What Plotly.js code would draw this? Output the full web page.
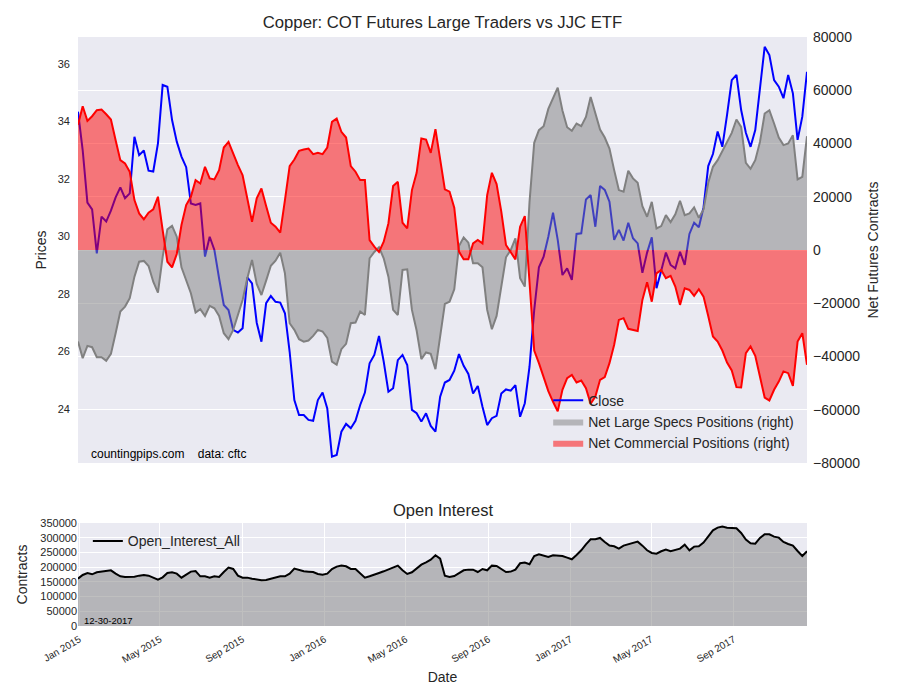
<!DOCTYPE html>
<html><head><meta charset="utf-8">
<script src="https://cdn.plot.ly/plotly-3.0.1.min.js"></script>
<style>html,body{margin:0;padding:0;background:#fff}#chart{width:900px;height:700px}</style>
</head><body><div id="chart"></div>
<script>
// Weekly COT report dates start (Tuesdays)
const startDate = '2014-12-30';

// JJC ETF close price (left axis)
const close = [
34.34, 33.0, 31.18, 30.94, 29.41, 30.69, 30.52, 30.90, 31.36, 31.71,
31.33, 31.50, 33.47, 32.83, 32.99, 32.29, 32.26, 33.24, 35.27, 35.21,
34.05, 33.30, 32.78, 32.41, 31.15, 31.10, 31.15, 29.30, 29.99, 29.53,
28.54, 27.62, 27.44, 26.75, 26.66, 26.81, 28.58, 28.37, 27.00, 26.34,
27.68, 27.93, 27.73, 27.70, 27.33, 25.99, 24.31, 23.79, 23.79, 23.62,
23.59, 24.31, 24.57, 24.02, 22.34, 22.40, 23.21, 23.48, 23.33, 23.59,
24.14, 24.57, 25.59, 25.88, 26.54, 25.65, 24.60, 24.72, 25.70, 25.88,
25.53, 23.97, 23.85, 23.56, 23.85, 23.41, 23.21, 24.43, 24.92, 25.01,
25.33, 25.91, 25.50, 25.22, 24.54, 24.80, 24.08, 23.44, 23.68, 23.76,
24.54, 24.68, 24.64, 24.83, 23.73, 24.20, 25.47, 27.44, 28.93, 29.30,
29.99, 30.83, 29.88, 28.66, 28.89, 28.49, 30.09, 30.11, 31.29, 31.44,
30.34, 31.76, 31.62, 31.21, 29.88, 30.23, 29.86, 30.48, 29.94, 29.76,
28.74, 29.44, 29.97, 28.20, 28.81, 29.44, 29.01, 28.89, 29.47, 29.01,
30.09, 30.48, 30.32, 31.01, 32.45, 32.87, 33.65, 33.12, 34.23, 35.44,
35.62, 34.40, 33.61, 33.12, 33.70, 35.10, 36.60, 36.31, 35.44, 35.21,
34.81, 35.62, 34.98, 33.36, 34.17, 35.73
];

// Net Large Speculator positions (right axis)
const largeSpecs = [
-34400, -40600, -36000, -36500, -40250, -40250, -41600, -39000, -31250, -23100,
-21250, -18100, -10000, -4400, -4100, -6000, -11900, -16000, -2600, 7750,
9100, 5000, -6500, -11500, -16250, -23500, -22250, -24750, -21000, -21900,
-24750, -31250, -33500, -30000, -24750, -18750, -10600, -3750, -12750, -16900,
-11500, -5900, -4000, -1000, -8750, -27500, -30000, -33500, -34400, -34000,
-32250, -30000, -30600, -33000, -41900, -43100, -37250, -35250, -27500, -27250,
-23100, -24400, -3100, -750, 1000, -3100, -10000, -22500, -24400, -7500,
-7250, -22500, -30250, -41000, -38500, -39000, -44750, -32500, -20250, -19400,
-14750, 1500, 4750, 2750, -5000, -5000, -6500, -22500, -29750, -24750,
-13750, -2750, 0, 4400, -10600, -13750, 18000, 40250, 45000, 46500,
53000, 56700, 61000, 52400, 46100, 44750, 47500, 46500, 50000, 57500,
51250, 45250, 42250, 38100, 30000, 22500, 21900, 29750, 26900, 25250,
16500, 12500, 18100, 8100, 9000, 13100, 10500, 13400, 18500, 13100,
13750, 16000, 12100, 15250, 25250, 31250, 33750, 37100, 40400, 44000,
49000, 46250, 32750, 30500, 33750, 40600, 51250, 52500, 47500, 42250,
39400, 40000, 43100, 26500, 27500, 42750
];

// Net Commercial positions (right axis)
const commercial = [
47000, 54000, 48500, 50250, 52500, 52750, 51000, 49000, 41250, 33750,
32500, 29400, 18750, 13750, 11500, 14000, 15250, 20000, 7500, -4400,
-6500, -1500, 9400, 16900, 20000, 26250, 25000, 31250, 26900, 26500,
30000, 38500, 40600, 36000, 31900, 28100, 20000, 10600, 19400, 23100,
16500, 10250, 8750, 6500, 18750, 31500, 34000, 37250, 37750, 38100,
36000, 36500, 36000, 38500, 48100, 49400, 44400, 42250, 31500, 29400,
26250, 26250, 3750, 1250, -750, 3100, 10000, 24000, 25600, 10250,
8100, 22500, 29000, 41900, 41500, 36500, 45400, 33750, 22750, 21900,
15900, -600, -3500, -3500, 2500, 3750, 2500, 20600, 29000, 24750,
14400, 1900, -1000, -3500, 8750, 12750, -12000, -37750, -42500, -48100,
-53000, -57000, -60600, -52500, -48100, -46900, -49750, -49000, -51900, -57750,
-55000, -48750, -47750, -42500, -35600, -26250, -25600, -29600, -30000, -30400,
-18750, -12100, -19400, -8750, -7500, -10600, -9750, -13750, -20600, -14400,
-15000, -17250, -14750, -17500, -24750, -32500, -34400, -37750, -42250, -45250,
-51500, -51600, -38750, -36250, -39750, -47500, -55400, -56500, -52500, -49400,
-45600, -46250, -51000, -34400, -31250, -43100
];

// Open interest (all)
const openInterest = [
160900, 173400, 180100, 175600, 182400, 184700, 189200, 189200, 177900, 168800,
166600, 166600, 167700, 171100, 173400, 171100, 164300, 157500, 165400, 180100,
182400, 177900, 164300, 175600, 184700, 186900, 168800, 168800, 164300, 168800,
166600, 183500, 198300, 193700, 171100, 164300, 164300, 160900, 157500, 155200,
156400, 159800, 164300, 168800, 168800, 177900, 194900, 190300, 185800, 184700,
183500, 176700, 174500, 177900, 193700, 201700, 205100, 202800, 193700, 193700,
180100, 164300, 168800, 175600, 180100, 185800, 191500, 199400, 205100, 189200,
176700, 182400, 196000, 208500, 216400, 225500, 240200, 228900, 171100, 166600,
169900, 180100, 189200, 191500, 191500, 183500, 193700, 189200, 205100, 203900,
193700, 183500, 184700, 191500, 213000, 215300, 209600, 237900, 243600, 240200,
234500, 240200, 240200, 237900, 232300, 226600, 241300, 257200, 277600, 294600,
294600, 299100, 285500, 273100, 270800, 262900, 273100, 277600, 282100, 286600,
273100, 257200, 248100, 245900, 253800, 259500, 253800, 257200, 262900, 276400,
257200, 269700, 270800, 283300, 302500, 325200, 334200, 337600, 334200, 333100,
332000, 316100, 293400, 280900, 279800, 299100, 311600, 311600, 303600, 300200,
285500, 278700, 273100, 254900, 237900, 253800
];

// Tick labels
const priceTicks = [24, 26, 28, 30, 32, 34, 36];
const xTickDates = ['2015-01-01','2015-05-01','2015-09-01','2016-01-01','2016-05-01','2016-09-01','2017-01-01','2017-05-01','2017-09-01'];
const xTickLabels = ['Jan 2015','May 2015','Sep 2015','Jan 2016','May 2016','Sep 2016','Jan 2017','May 2017','Sep 2017'];

function weeklyDates(start, n) {
  const t0 = Date.parse(start + 'T00:00:00Z');
  const out = [];
  for (let i = 0; i < n; i++) out.push(new Date(t0 + i * 7 * 86400000).toISOString().slice(0, 10));
  return out;
}
const dates = weeklyDates(startDate, close.length);
const xRange = [dates[0], dates[dates.length - 1]];

const FONT = 'Liberation Sans, Arial, Helvetica, sans-serif';
const TXT = '#262626';

const traces = [
  {x: dates, y: close, xaxis: 'x', yaxis: 'y', type: 'scatter', mode: 'lines',
   name: 'Close', line: {color: '#0000ff', width: 2}, legend: 'legend'},
  {x: dates, y: largeSpecs, xaxis: 'x', yaxis: 'y2', type: 'scatter', mode: 'lines', fill: 'tozeroy',
   fillcolor: 'rgba(128,128,128,0.5)', line: {width: 0, color: 'rgba(128,128,128,0)'},
   name: 'Net Large Specs Positions (right)', legend: 'legend'},
  {x: dates, y: largeSpecs, xaxis: 'x', yaxis: 'y2', type: 'scatter', mode: 'lines',
   line: {color: '#808080', width: 2}, showlegend: false, hoverinfo: 'skip'},
  {x: dates, y: commercial, xaxis: 'x', yaxis: 'y2', type: 'scatter', mode: 'lines', fill: 'tozeroy',
   fillcolor: 'rgba(255,0,0,0.5)', line: {width: 0, color: 'rgba(255,0,0,0)'},
   name: 'Net Commercial Positions (right)', legend: 'legend'},
  {x: dates, y: commercial, xaxis: 'x', yaxis: 'y2', type: 'scatter', mode: 'lines',
   line: {color: '#ff0000', width: 2}, showlegend: false, hoverinfo: 'skip'},
  {x: dates, y: openInterest, xaxis: 'x2', yaxis: 'y3', type: 'scatter', mode: 'lines', fill: 'tozeroy',
   fillcolor: 'rgba(128,128,128,0.5)', line: {width: 0, color: 'rgba(0,0,0,0)'}, showlegend: false, hoverinfo: 'skip'},
  {x: dates, y: openInterest, xaxis: 'x2', yaxis: 'y3', type: 'scatter', mode: 'lines',
   line: {color: '#000000', width: 2}, name: 'Open_Interest_All', legend: 'legend2'}
];

const layout = {
  width: 900, height: 700,
  margin: {l: 78, r: 93, t: 37, b: 74, pad: 0},
  paper_bgcolor: '#ffffff', plot_bgcolor: '#EAEAF2',
  font: {family: FONT, color: TXT},
  showlegend: true,
  title: {text: 'Copper: COT Futures Large Traders vs JJC ETF', font: {size: 16.7, color: TXT, family: FONT},
          x: 0.5, xref: 'paper', xanchor: 'center', y: 1 - 22 / 700, yref: 'container', yanchor: 'middle'},
  xaxis: {type: 'date', domain: [0, 1], anchor: 'y', range: xRange, showticklabels: false,
          showgrid: false, zeroline: false, ticks: '', showline: false, fixedrange: true},
  yaxis: {domain: [0.2767, 1], anchor: 'x', range: [22.12, 36.94], tickvals: priceTicks,
          showgrid: false, zeroline: false, ticks: '', showline: false, ticklabelstandoff: 7,
          tickfont: {size: 11, color: TXT}, automargin: false,
          title: {text: 'Prices', font: {size: 14, color: TXT}, standoff: 7}},
  yaxis2: {overlaying: 'y', side: 'right', anchor: 'x', range: [-80000, 80000], tick0: 0, dtick: 20000,
           showgrid: true, gridcolor: '#ffffff', gridwidth: 1, zeroline: false, ticks: '', showline: false,
           tickformat: 'd', ticklabelstandoff: 5, tickfont: {size: 14, color: TXT}, automargin: false,
           title: {text: 'Net Futures Contracts', font: {size: 14, color: TXT}, standoff: 8}},
  xaxis2: {type: 'date', domain: [0, 1], anchor: 'y3', range: xRange, tickvals: xTickDates, ticktext: xTickLabels,
           tickangle: -30, tickfont: {size: 10, color: TXT}, showgrid: true, gridcolor: '#ffffff', gridwidth: 1,
           zeroline: false, ticks: '', showline: false, automargin: false, ticklabelstandoff: 5,
           title: {text: 'Date', font: {size: 14, color: TXT}, standoff: 8}},
  yaxis3: {domain: [0, 0.1749], anchor: 'x2', range: [0, 350000], tick0: 0, dtick: 50000,
           showgrid: true, gridcolor: '#ffffff', gridwidth: 1, zeroline: false, ticks: '', showline: false,
           tickformat: 'd', tickfont: {size: 11, color: TXT}, automargin: false,
           title: {text: 'Contracts', font: {size: 14, color: TXT}, standoff: 9}},
  legend: {x: 0.645, y: 0.4097, xanchor: 'left', yanchor: 'top', bgcolor: 'rgba(0,0,0,0)',
           font: {size: 14, color: TXT, family: FONT}, tracegroupgap: 0, itemwidth: 30},
  legend2: {x: 0.0135, y: 0.171, xanchor: 'left', yanchor: 'top', bgcolor: 'rgba(0,0,0,0)',
            font: {size: 14, color: TXT, family: FONT}, itemwidth: 30},
  annotations: [
    {text: 'countingpips.com\u00a0\u00a0\u00a0 data: cftc', xref: 'paper', yref: 'paper', x: 0.015, y: 0.292,
     xanchor: 'left', yanchor: 'middle', showarrow: false, font: {size: 12, color: '#000000'}},
    {text: '12-30-2017', xref: 'paper', yref: 'paper', x: 0.006, y: 0.0085,
     xanchor: 'left', yanchor: 'middle', showarrow: false, font: {size: 9.5, color: '#000000'}},
    {text: 'Open Interest', xref: 'paper', yref: 'paper', x: 0.5, y: 0.197,
     xanchor: 'center', yanchor: 'middle', showarrow: false, font: {size: 16.5, color: TXT}}
  ]
};

Plotly.newPlot('chart', traces, layout, {staticPlot: true, displayModeBar: false});
</script>
</body></html>
